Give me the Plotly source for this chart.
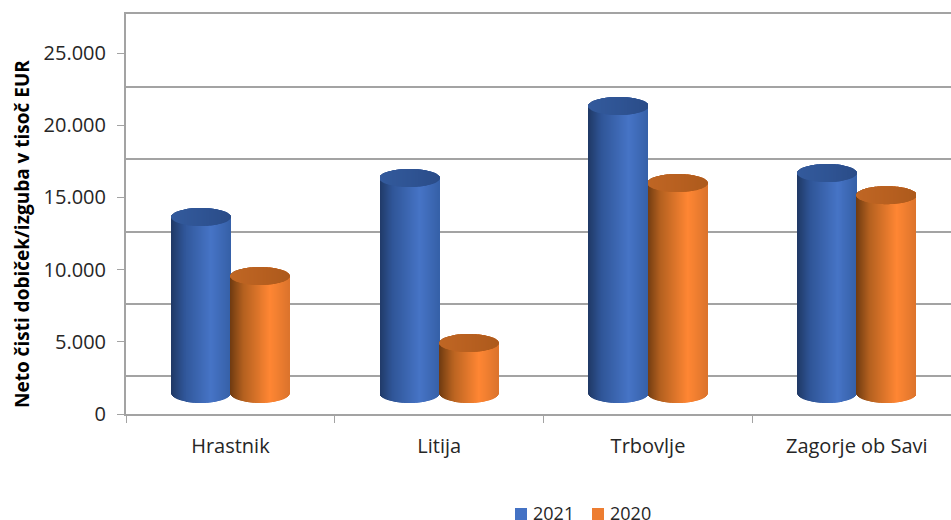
import plotly.graph_objects as go
import math

categories = ["Hrastnik", "Litija", "Trbovlje", "Zagorje ob Savi"]
values_2021 = [12190, 14890, 19875, 15235]
values_2020 = [8100, 3460, 14540, 13700]
y_ticks = [0, 5000, 10000, 15000, 20000, 25000]
y_tick_labels = ["0", "5.000", "10.000", "15.000", "20.000", "25.000"]

FONT = "Open Sans"
GRID = "#a3a3a3"
TEXT = "#262626"
W, H = 951, 520
ML, MR, MT, MB = 126, 0, 14, 106
PLOT_W, PLOT_H = W - ML - MR, H - MT - MB
PX_PER_UNIT = 72.2 / 5000
PX_PER_CAT = 208.8
YMAX = PLOT_H / PX_PER_UNIT
XMAX = PLOT_W / PX_PER_CAT - 0.5
FLOOR_FRONT = 21 / PX_PER_UNIT      # 3D: cylinders stand in front of the axis plane
WALL_SHIFT = 38 / PX_PER_UNIT       # 3D: back wall grid is lifted
ELL_RY_TOP = 9 / PX_PER_UNIT
ELL_RY_BOT = 10 / PX_PER_UNIT
BAR_W = 59.2 / PX_PER_CAT
STRIPS = 60


def hexrgb(h):
    return tuple(int(h[i:i + 2], 16) for i in (1, 3, 5))


def ramp(stops, t):
    for (t0, c0), (t1, c1) in zip(stops, stops[1:]):
        if t <= t1:
            f = (t - t0) / (t1 - t0)
            a, b = hexrgb(c0), hexrgb(c1)
            return "rgb(%d,%d,%d)" % tuple(round(a[i] + (b[i] - a[i]) * f) for i in range(3))
    return stops[-1][1]


def px_x(px):
    return (px - ML) / PLOT_W


def px_y(px):
    return (H - MB - px) / PLOT_H


series = [
    dict(name="2021", values=values_2021, offset=-BAR_W / 2, color="#4472C4", key_x=515, text_x=532,
         body=[(0, "#1f3864"), (0.22, "#2f5597"), (0.68, "#4674c6"), (1, "#3660a8")],
         top=[(0, "#335a9c"), (0.5, "#2f5494"), (1, "#2a4c88")]),
    dict(name="2020", values=values_2020, offset=BAR_W / 2, color="#ED7D31", key_x=592, text_x=609,
         body=[(0, "#6e3a10"), (0.22, "#b3601f"), (0.68, "#ff8633"), (1, "#dc742c")],
         top=[(0, "#bf6624"), (0.5, "#b86020"), (1, "#ad5a1c")]),
]

fig = go.Figure()

# invisible trace that carries the shifted back-wall axis
fig.add_trace(go.Scatter(x=[None], y=[None], yaxis="y2", showlegend=False, hoverinfo="skip"))

for s in series:
    xc = [i + s["offset"] for i in range(len(categories))]
    fig.add_trace(go.Bar(
        name=s["name"], x=xc, y=s["values"], base=[FLOOR_FRONT] * len(xc), width=BAR_W,
        showlegend=False, marker=dict(color=s["color"], line=dict(width=0)), hoverinfo="skip"))

for s in series:
    sx, sb, sh, sc = [], [], [], []
    tx, tb, th, tc = [], [], [], []
    for i, v in enumerate(s["values"]):
        c = i + s["offset"]
        for k in range(STRIPS):
            t = (k + 0.5) / STRIPS
            u = 2 * t - 1
            r = math.sqrt(max(0, 1 - u * u))
            x = c + u * BAR_W / 2
            bottom = FLOOR_FRONT - ELL_RY_BOT * r
            top_c = FLOOR_FRONT + v
            sx.append(x)
            sb.append(bottom)
            sh.append(top_c + ELL_RY_TOP * r - bottom)
            sc.append(ramp(s["body"], t))
            tx.append(x)
            tb.append(top_c - ELL_RY_TOP * r)
            th.append(2 * ELL_RY_TOP * r)
            tc.append(ramp(s["top"], t))
    w = BAR_W / STRIPS
    fig.add_trace(go.Bar(x=sx, y=sh, base=sb, width=w, showlegend=False, hoverinfo="skip",
                         marker=dict(color=sc, line=dict(width=0))))
    fig.add_trace(go.Bar(x=tx, y=th, base=tb, width=w, showlegend=False, hoverinfo="skip",
                         marker=dict(color=tc, line=dict(width=0))))

annotations = [dict(text="<b>Neto čisti dobiček/izguba v tisoč EUR</b>", textangle=-90,
                    xref="paper", yref="paper", x=px_x(22), y=px_y(234),
                    xanchor="center", yanchor="middle", showarrow=False,
                    font=dict(size=19, family=FONT, color="#000000"))]
shapes = []
for s in series:
    annotations.append(dict(text=s["name"], xref="paper", yref="paper", x=px_x(s["text_x"]),
                            y=px_y(513), xanchor="left", yanchor="middle", showarrow=False,
                            xshift=-1, font=dict(size=18, family=FONT, color=TEXT)))
    shapes.append(dict(type="rect", xref="paper", yref="paper", x0=px_x(s["key_x"]),
                       x1=px_x(s["key_x"] + 12), y0=px_y(520), y1=px_y(508),
                       fillcolor=s["color"], line=dict(width=0)))

fig.update_layout(
    width=W, height=H, margin=dict(l=ML, r=MR, t=MT, b=MB, autoexpand=False),
    paper_bgcolor="white", plot_bgcolor="white", barmode="overlay", showlegend=False,
    font=dict(family=FONT, color=TEXT),
    xaxis=dict(range=[-0.5, XMAX], tickmode="array", tickvals=list(range(len(categories))),
               ticktext=categories, ticks="", showgrid=False, zeroline=False,
               showline=True, linecolor=GRID, linewidth=2, mirror=True,
               ticklabelstandoff=13,
               tickfont=dict(size=20, family=FONT, color=TEXT),
               minor=dict(tickmode="array", tickvals=[i - 0.5 for i in range(len(categories) + 1)],
                          ticks="outside", ticklen=7, tickcolor=GRID, tickwidth=1, showgrid=False)),
    yaxis=dict(range=[0, YMAX], tickmode="array", tickvals=y_ticks, ticktext=y_tick_labels,
               ticks="outside", ticklen=7, tickcolor=GRID, tickwidth=1, showgrid=False,
               zeroline=False, showline=True, linecolor=GRID, linewidth=2,
               ticklabelstandoff=7,
               tickfont=dict(size=20, family=FONT, color=TEXT)),
    yaxis2=dict(overlaying="y", side="right", range=[-WALL_SHIFT, YMAX - WALL_SHIFT],
                tickmode="array", tickvals=y_ticks, showticklabels=False, ticks="",
                showgrid=True, gridcolor=GRID, gridwidth=2, zeroline=False, showline=False),
    annotations=annotations,
    shapes=shapes,
)

fig.write_html("out.html", post_script="document.body.style.margin='0';",
               config={"displayModeBar": False})
